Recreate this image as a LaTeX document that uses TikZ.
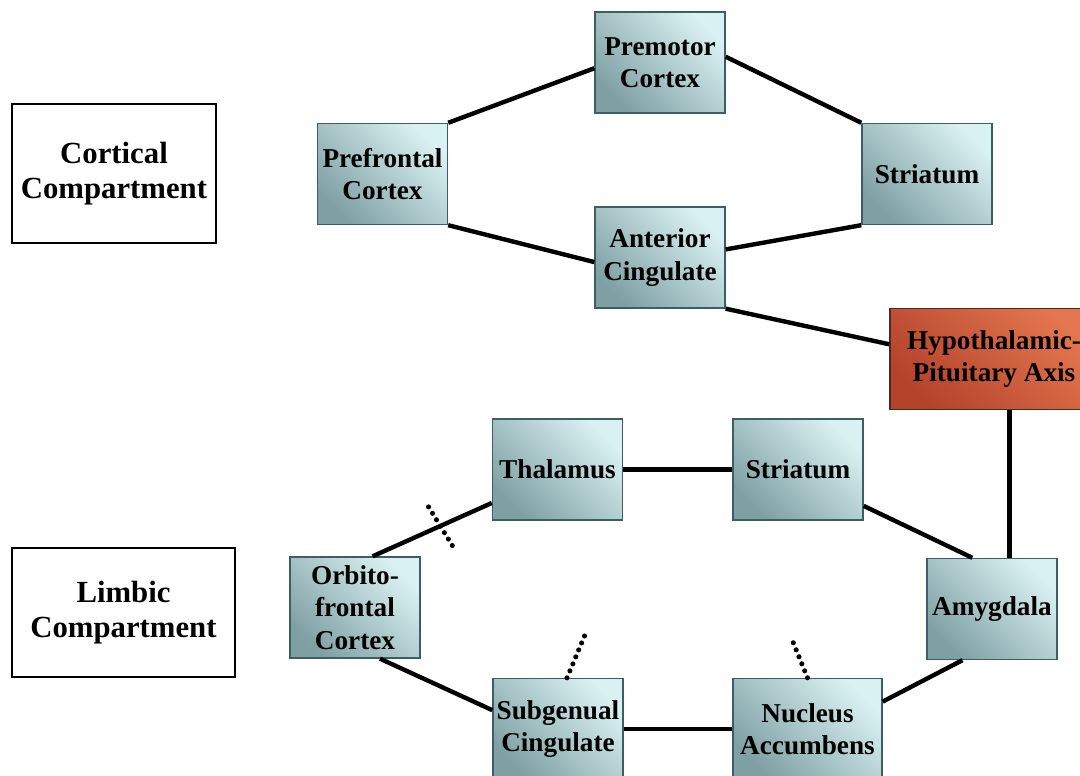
\documentclass[tikz,border=0pt]{standalone}
\usepackage{fontspec}
\setmainfont{Liberation Serif}
\definecolor{boxlight}{HTML}{DAF1F3}
\definecolor{boxdark}{HTML}{7FA0A3}
\definecolor{boxedge}{HTML}{3C5F63}
\definecolor{axislight}{HTML}{E4774F}
\definecolor{axisdark}{HTML}{B4432B}
\definecolor{axisedge}{HTML}{4A2A22}
\begin{document}
\begin{tikzpicture}[
    x=0.02cm, y=-0.02cm,
    every node/.style={font=\fontsize{15.5}{18.5}\selectfont\bfseries, align=center},
    region/.style={draw=black, line width=1.4pt, fill=white, font=\fontsize{17.5}{20}\selectfont\bfseries},
    box/.style={draw=boxedge, line width=0.8pt, bottom color=boxdark, top color=boxlight, shading angle=-45,
                minimum width=2.6cm, minimum height=2.02cm, inner sep=1pt},
    axisbox/.style={box, draw=axisedge, bottom color=axisdark, top color=axislight, shading angle=-45},
    link/.style={line width=2.5pt},
    stub/.style={line width=2.9pt, line cap=round, dash pattern=on 0pt off 4.3pt}
]
\path[use as bounding box, fill=white] (0,0) rectangle (1080,776);

% Compartments
\node[region, minimum width=4.08cm, minimum height=2.78cm] (cortical) at (114,173.5) {Cortical\\Compartment};
\node[region, minimum width=4.46cm, minimum height=2.58cm] (limbic) at (123.5,612.5) {Limbic\\Compartment};

% Cortical loop
\node[box] (premotor) at (660,62.5) {Premotor\\Cortex};
\node[box] (prefrontal) at (382.5,174) {Prefrontal\\Cortex};
\node[box] (striatumC) at (927,174) {Striatum};
\node[box] (anterior) at (660,257.5) {Anterior\\Cingulate};
\node[axisbox, minimum width=4.16cm] (hpa) at (994,359) {Hypothalamic-\\Pituitary Axis};

% Limbic loop
\node[box] (thalamus) at (557.5,469.5) {Thalamus};
\node[box] (striatumL) at (798,469.5) {Striatum};
\node[box] (orbito) at (355,607.5) {Orbito-\\frontal\\Cortex};
\node[box] (amygdala) at (992,609) {Amygdala};
\node[box] (subgenual) at (558,729) {Subgenual\\Cingulate};
\node[box, minimum width=2.98cm] (nucleus) at (807.5,729) {Nucleus\\Accumbens};

% Links
\draw[link] (prefrontal.north east) -- (premotor.185);
\draw[link] (premotor.5) -- (striatumC.north west);
\draw[link] (prefrontal.south east) -- (anterior.184);
\draw[link] (anterior.7) -- (striatumC.south west);
\draw[link] (anterior.south east) -- (hpa.172);
\draw[link] (amygdala.71) -- (amygdala.71 |- hpa.south);
\draw[link] (thalamus) -- (striatumL);
\draw[link] (striatumL.331) -- (amygdala.111);
\draw[link] (orbito.71) -- coordinate[pos=0.57] (cut) (thalamus.207);
\draw[link] (orbito.296) -- (subgenual.164);
\draw[link] (subgenual) -- (nucleus);
\draw[link] (nucleus.20) -- (amygdala.240);

% Dotted marks
\draw[stub] (cut) ++(-12,-19) -- ++(24,39);
\draw[stub] (subgenual.80) -- ++(18,-43);
\draw[stub] (nucleus.north) -- ++(-17,-42);
\end{tikzpicture}
\end{document}
